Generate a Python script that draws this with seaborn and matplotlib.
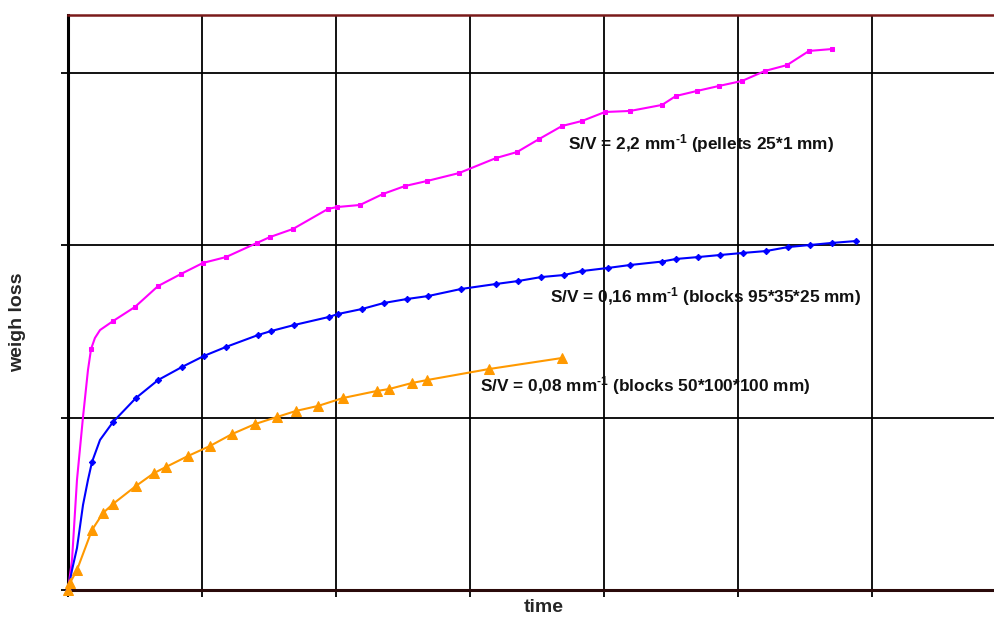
import numpy as np
import pandas as pd
import matplotlib
matplotlib.use("Agg")
import matplotlib.pyplot as plt
import seaborn as sns

# ---- data (grid units) ----
pellets_t = [0.0, 0.030, 0.067, 0.112, 0.149, 0.172, 0.201, 0.239, 0.336, 0.500, 0.672, 0.843,
             1.007, 1.179, 1.410, 1.507, 1.679, 1.940, 2.007, 2.179, 2.351, 2.515, 2.679, 2.918,
             3.194, 3.351, 3.515, 3.687, 3.836, 4.007, 4.194, 4.433, 4.537, 4.694, 4.858, 5.030,
             5.201, 5.366, 5.530, 5.701]
pellets_v = [0.0, 0.174, 0.638, 1.003, 1.275, 1.397, 1.461, 1.507, 1.559, 1.641, 1.762, 1.832,
             1.896, 1.930, 2.012, 2.046, 2.093, 2.209, 2.220, 2.232, 2.296, 2.342, 2.371, 2.417,
             2.504, 2.539, 2.614, 2.690, 2.719, 2.771, 2.777, 2.812, 2.864, 2.893, 2.922, 2.951,
             3.009, 3.043, 3.125, 3.136]

blocks95_t = [0.0, 0.030, 0.067, 0.112, 0.149, 0.179, 0.239, 0.336, 0.507, 0.672, 0.851, 1.015,
              1.179, 1.418, 1.515, 1.687, 1.948, 2.015, 2.194, 2.358, 2.530, 2.687, 2.933, 3.194,
              3.358, 3.530, 3.701, 3.836, 4.030, 4.194, 4.433, 4.537, 4.701, 4.866, 5.037, 5.209,
              5.373, 5.537, 5.701, 5.881]
blocks95_v = [0.0, 0.116, 0.243, 0.493, 0.638, 0.742, 0.870, 0.974, 1.113, 1.217, 1.293, 1.357,
              1.409, 1.478, 1.501, 1.536, 1.583, 1.600, 1.629, 1.664, 1.687, 1.704, 1.745, 1.774,
              1.791, 1.814, 1.826, 1.849, 1.867, 1.884, 1.904, 1.919, 1.930, 1.942, 1.954, 1.965,
              1.988, 2.000, 2.012, 2.023]

blocks50_t = [0.0, 0.015, 0.067, 0.179, 0.261, 0.336, 0.507, 0.642, 0.731, 0.896, 1.060, 1.224,
              1.396, 1.560, 1.701, 1.866, 2.052, 2.306, 2.396, 2.567, 2.679, 3.142, 3.687]
blocks50_v = [0.0, 0.041, 0.116, 0.348, 0.446, 0.499, 0.603, 0.678, 0.713, 0.777, 0.835, 0.904,
              0.962, 1.003, 1.038, 1.067, 1.113, 1.154, 1.165, 1.200, 1.217, 1.281, 1.345]

labels = [r"S/V = 2,2 mm$^{\text{-1}}$ (pellets 25*1 mm)",
          r"S/V = 0,16 mm$^{\text{-1}}$ (blocks 95*35*25 mm)",
          r"S/V = 0,08 mm$^{\text{-1}}$ (blocks 50*100*100 mm)"]
x_ticks = [0, 1, 2, 3, 4, 5, 6]
y_ticks = [0, 1, 2, 3]

sns.set_theme(style="white")
plt.rcParams["font.family"] = ["Liberation Sans", "DejaVu Sans"]
plt.rcParams["mathtext.fontset"] = "custom"
plt.rcParams["mathtext.rm"] = "Liberation Sans:bold"
plt.rcParams["mathtext.it"] = "Liberation Sans:bold"
plt.rcParams["mathtext.bf"] = "Liberation Sans:bold"

fig = plt.figure(figsize=(9.94, 6.17), dpi=100)
ax = fig.add_axes([68 / 994, 1 - 590 / 617, 938 / 994, 575 / 617])

def marked(n, skip):
    return [i for i in range(n) if i not in skip]

series = [
    (pellets_t, pellets_v, "#FF00FF", "s", 3.0, marked(len(pellets_t), {1, 2, 3, 4, 6, 7})),
    (blocks95_t, blocks95_v, "#0000FF", "D", 3.2, marked(len(blocks95_t), {1, 2, 3, 4, 6})),
    (blocks50_t, blocks50_v, "#FF9900", "^", 7.0, marked(len(blocks50_t), set())),
]
for t, v, c, m, ms, me in series:
    df = pd.DataFrame({"time": t, "loss": v})
    sns.lineplot(data=df, x="time", y="loss", ax=ax, color=c, marker=m, markersize=ms,
                 markeredgecolor=c, markerfacecolor=c, linewidth=1.5, sort=False,
                 estimator=None, zorder=3, clip_on=False, markevery=me)

ax.set_xlim(0, 7)
ax.set_ylim(0, 10 / 3)
ax.set_xticks(x_ticks)
ax.set_yticks(y_ticks)
ax.set_xticklabels([])
ax.set_yticklabels([])
ax.grid(True, color="black", linewidth=1.3)
ax.set_axisbelow(True)
ax.tick_params(axis="both", which="major", direction="out", length=5, width=1.3,
               color="black", left=True, bottom=True)

for side in ["left", "bottom"]:
    ax.spines[side].set_color("black")
    ax.spines[side].set_linewidth(2.2)
ax.spines["bottom"].set_color("#2a0a0a")
ax.spines["top"].set_color("#7a1a1a")
ax.spines["top"].set_linewidth(1.8)
ax.spines["right"].set_visible(False)

ax.set_xlabel("time", fontsize=14, fontweight="bold", va="center")
ax.xaxis.set_label_coords((544 - 68) / 938, (590 - 608) / 575)
ax.set_ylabel("weigh loss", fontsize=14, fontweight="bold", va="center")
ax.yaxis.set_label_coords((18 - 68) / 938, (590 - 322) / 575)

label_pos = [(3.731, 2.591), (3.597, 1.704), (3.075, 1.183)]
for (lx, ly), txt in zip(label_pos, labels):
    ax.text(lx, ly, txt, fontsize=12.4, fontweight="bold", ha="left", va="center",
            color="#111111", zorder=4)

fig.savefig("out.png", dpi=100, facecolor="white")
